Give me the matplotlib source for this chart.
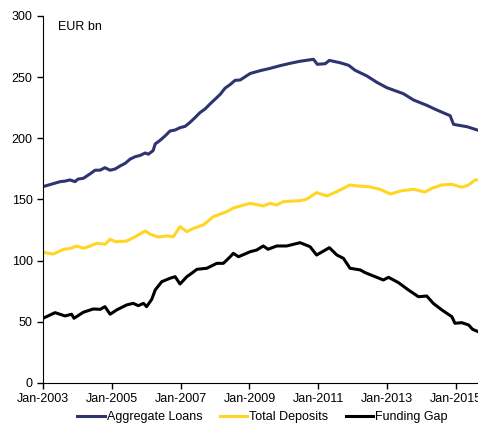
import matplotlib
matplotlib.use('Agg')
import matplotlib.pyplot as plt

plt.rcParams['font.family'] = ['Liberation Sans', 'DejaVu Sans']

# decimal years
loans_t = [2003.0, 2003.5, 2003.64, 2003.78, 2003.93, 2004.02, 2004.17, 2004.37, 2004.51, 2004.66,
           2004.8, 2004.95, 2005.1, 2005.24, 2005.39, 2005.53, 2005.68, 2005.82, 2005.97, 2006.06,
           2006.2, 2006.26, 2006.4, 2006.55, 2006.69, 2006.84, 2006.98, 2007.13, 2007.27, 2007.42,
           2007.56, 2007.71, 2007.85, 2008.0, 2008.15, 2008.29, 2008.44, 2008.58, 2008.73, 2009.02,
           2009.31, 2009.6, 2009.89, 2010.18, 2010.47, 2010.86, 2010.97, 2011.2, 2011.32, 2011.63,
           2011.88, 2012.07, 2012.41, 2012.7, 2012.99, 2013.47, 2013.77, 2014.15, 2014.44, 2014.83,
           2014.93, 2015.32, 2015.62]
loans = [160.5, 164.6, 165, 166, 164.6, 166.7, 167.3, 171, 173.9, 174,
         176, 173.9, 175, 177.4, 179.6, 183, 185, 186, 188, 187,
         190, 195.4, 198.3, 202, 206, 206.8, 208.7, 209.8, 213, 217,
         221, 224, 228, 232, 236, 241, 244, 247.4, 247.7, 253,
         255.3, 257.2, 259.4, 261.3, 263, 264.6, 260.5, 261, 263.7, 261.8,
         259.7, 255.6, 251, 245.8, 241.4, 236.5, 231.3, 227, 223.2, 218.5,
         211.4, 209.5, 206.8]

deposits_t = [2003.0, 2003.3, 2003.6, 2003.79, 2003.98, 2004.17, 2004.32, 2004.56, 2004.8, 2004.95,
              2005.1, 2005.43, 2005.72, 2005.97, 2006.11, 2006.35, 2006.6, 2006.79, 2006.98, 2007.18,
              2007.37, 2007.66, 2007.95, 2008.34, 2008.53, 2009.02, 2009.4, 2009.6, 2009.79, 2009.98,
              2010.47, 2010.66, 2010.95, 2011.25, 2011.54, 2011.92, 2012.16, 2012.46, 2012.8, 2013.09,
              2013.43, 2013.77, 2014.1, 2014.3, 2014.59, 2014.88, 2015.17, 2015.37, 2015.56, 2015.64]
deposits = [106.8, 105.4, 109.3, 110, 112, 110.1, 111.4, 114.2, 113.4, 117.5,
            115.5, 116, 120.2, 124.3, 121.6, 119.3, 120.2, 119.6, 127.8, 123.7,
            126.4, 129.2, 136, 140, 143, 146.9, 144.7, 146.9, 145.5, 148.2,
            149, 150.2, 155.6, 152.9, 156.4, 161.9, 161, 160.5, 158.3, 154.5,
            157.2, 158.3, 156.1, 159.2, 161.9, 162.4, 160, 161.9, 166, 166]

gap_t = [2003.0, 2003.35, 2003.64, 2003.83, 2003.9, 2004.17, 2004.46, 2004.66, 2004.8, 2004.95,
         2005.14, 2005.43, 2005.62, 2005.77, 2005.92, 2006.01, 2006.16, 2006.26, 2006.45, 2006.69,
         2006.84, 2006.98, 2007.18, 2007.32, 2007.47, 2007.76, 2008.05, 2008.24, 2008.44, 2008.53,
         2008.68, 2009.02, 2009.21, 2009.4, 2009.54, 2009.79, 2010.08, 2010.47, 2010.76, 2010.95,
         2011.32, 2011.54, 2011.73, 2011.92, 2012.22, 2012.36, 2012.65, 2012.89, 2013.04, 2013.33,
         2013.62, 2013.91, 2014.15, 2014.34, 2014.59, 2014.88, 2014.97, 2015.17, 2015.37, 2015.48,
         2015.64]
gap = [52.9, 57.5, 54.8, 56.2, 52.9, 57.8, 60.5, 60.2, 62.4, 56.2,
       59.7, 63.8, 65.1, 63.2, 65.1, 62.4, 68.4, 76, 82.8, 85.6,
       86.9, 80.9, 86.9, 89.7, 92.9, 93.8, 97.8, 97.8, 103.2, 106,
       103.2, 107.3, 108.7, 112, 109.3, 112, 112, 114.7, 111.4, 104.6,
       110.6, 104.6, 101.9, 93.8, 92.4, 90.2, 86.9, 84.2, 86.4, 82,
       76, 70.5, 71.1, 65.1, 59.7, 54.2, 48.8, 49.3, 47.4, 43.9,
       42]

tick_years = [2003, 2005, 2007, 2009, 2011, 2013, 2015]
tick_labels = ['Jan-' + str(y) for y in tick_years]

fig = plt.figure(figsize=(4.78, 4.23), dpi=100)
ax = fig.add_axes([0.09, 0.0946, 0.91, 0.8676])

ax.plot(loans_t, loans, color='#2E3470', lw=2.2, label='Aggregate Loans')
ax.plot(deposits_t, deposits, color='#FFD624', lw=2.2, label='Total Deposits')
ax.plot(gap_t, gap, color='black', lw=2.2, label='Funding Gap')

ax.set_xlim(2003, 2015.64)
ax.set_ylim(0, 300)
ax.set_yticks(range(0, 301, 50))
ax.set_xticks(tick_years)
ax.set_xticklabels(tick_labels)
ax.tick_params(direction='out', length=4, width=1, labelsize=9, colors='black')
ax.spines['top'].set_visible(False)
ax.spines['right'].set_visible(False)
ax.text(0.035, 0.985, 'EUR bn', transform=ax.transAxes, fontsize=9, va='top', ha='left')

ax.legend(loc='center', bbox_to_anchor=(0.505, -0.093), ncol=3, frameon=False,
          fontsize=9, handlelength=2.2, columnspacing=1.4, handletextpad=0.15,
          borderpad=0.1)

plt.savefig('out.png', dpi=100)
